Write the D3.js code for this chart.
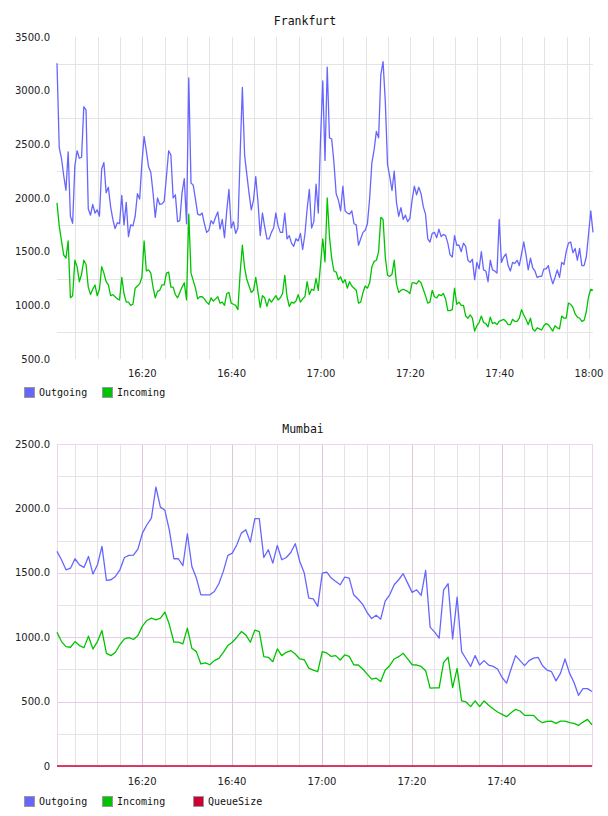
<!DOCTYPE html>
<html>
<head>
<meta charset="utf-8">
<script src="https://cdn.jsdelivr.net/npm/d3@7"></script>
<style>
html,body{margin:0;padding:0;background:#fff;}
svg{display:block;}
</style>
</head>
<body>
<svg id="chart" width="608" height="816"></svg>
<script>
// ---------- DATA ----------
const seriesNames = ["Outgoing", "Incoming", "QueueSize"];
const seriesColors = ["#6666ff", "#00c400", "#cc0033"];

// Frankfurt: samples every 30 s starting 16:00:54
const frankfurtStart = [16, 0, 54];
const frankfurtStepSec = 30;
const frankfurtOutgoing = [
3256,2470,2370,2210,2072,2430,1830,1765,2300,2440,
2370,2380,2850,2820,1900,1840,1940,1860,1890,1830,
2270,2330,2050,2100,1920,1800,1716,1770,1760,2025,
1750,1960,1640,1750,1740,1830,2040,1990,2320,2574,
2440,2290,2240,2050,1820,2000,1940,1945,1970,2200,
2440,2400,2000,2030,1780,1790,2050,2180,1760,3120,
2140,2120,1990,1850,1840,1860,1760,1680,1700,1790,
1760,1820,1870,1710,1800,1630,1880,2080,1720,1780,
1670,1720,2400,3030,2400,2220,2040,1890,1980,2200,
1960,1650,1860,1730,1620,1620,1680,1720,1860,1740,
1680,1680,1860,1620,1650,1580,1550,1620,1600,1670,
1520,1660,1900,2080,1720,1780,2130,1860,2550,3090,
2350,3220,2560,2550,2330,2040,1980,1880,2110,1880,
1860,1850,1880,1760,1750,1560,1620,1680,1700,1760,
2000,2330,2450,2620,2560,3150,3270,2900,2310,2200,
2070,2250,1960,1830,1910,1800,1840,1780,1810,1980,
2110,2030,2100,2040,1920,1850,1620,1590,1670,1680,
1630,1710,1640,1660,1650,1580,1470,1450,1650,1560,
1560,1500,1580,1550,1420,1400,1430,1240,1400,1340,
1500,1330,1320,1220,1420,1330,1320,1300,1800,1400,
1450,1480,1370,1320,1400,1390,1420,1370,1480,1590,
1470,1330,1440,1350,1320,1260,1270,1270,1340,1340,
1370,1270,1200,1260,1330,1260,1400,1380,1500,1580,
1590,1490,1530,1420,1530,1370,1370,1450,1660,1880,
1680];
const frankfurtIncoming = [
1954,1740,1600,1470,1440,1600,1070,1090,1420,1360,
1220,1290,1420,1380,1170,1100,1150,1190,1090,1150,
1360,1300,1220,1190,1090,1100,1080,1060,1050,1260,
1110,1030,1030,1000,1010,1160,1180,1200,1260,1600,
1320,1330,1300,1170,1070,1130,1140,1190,1190,1300,
1310,1170,1170,1100,1070,1120,1170,1210,1050,1850,
1300,1230,1160,1060,1080,1080,1060,1030,1010,1070,
1040,1060,1080,1020,1030,1000,1110,1120,1020,1010,
1000,960,1300,1560,1350,1240,1180,1120,1140,1260,
1120,980,1090,1070,990,1060,1030,1060,1090,1050,
1070,1110,1280,1080,990,1030,1020,1040,1100,1030,
1060,1080,1220,1100,1150,1140,1250,1140,1380,1620,
1405,2000,1640,1440,1320,1310,1240,1266,1210,1240,
1160,1220,1180,1160,1140,1020,1030,1120,1180,1160,
1210,1360,1410,1420,1500,1820,1800,1450,1280,1270,
1290,1420,1200,1120,1140,1150,1140,1130,1110,1210,
1210,1200,1230,1210,1150,1090,1020,1030,1140,1080,
1070,1100,1090,1110,1060,950,950,960,1160,1010,
1030,1000,1000,900,880,910,880,760,810,840,
900,840,830,800,890,830,840,820,850,860,
870,850,820,820,870,850,850,880,960,910,
870,820,880,780,760,790,780,770,810,830,
820,790,760,810,790,780,900,880,880,1020,
1010,980,920,890,880,850,860,940,1080,1150,
1140];

// Mumbai: samples every 60 s starting 16:01:04
const mumbaiStart = [16, 1, 4];
const mumbaiStepSec = 60;
const mumbaiOutgoing = [
1666,1601,1523,1536,1609,1562,1542,1627,1490,1562,
1705,1441,1446,1472,1523,1619,1635,1637,1684,1808,
1873,1925,2166,2010,1985,1829,1609,1609,1555,1803,
1549,1459,1329,1329,1329,1355,1415,1511,1635,1653,
1718,1808,1834,1738,1920,1920,1619,1679,1575,1713,
1601,1619,1658,1726,1588,1498,1303,1298,1239,1498,
1505,1459,1433,1407,1467,1459,1329,1295,1255,1190,
1145,1170,1140,1280,1329,1407,1446,1493,1420,1348,
1368,1324,1518,1078,1039,992,1368,1415,987,1311,
888,831,773,857,784,818,784,773,753,687,
643,753,857,818,779,818,838,844,779,745,
732,661,721,831,721,648,549,601,601,578];
const mumbaiIncoming = [
1039,966,927,922,966,935,919,1008,909,966,
1052,875,857,883,943,987,997,982,1013,1086,
1130,1148,1135,1148,1195,1096,961,961,948,1070,
914,888,792,800,786,818,836,883,935,961,
1000,1044,1018,961,1055,1044,849,844,810,909,
857,883,896,870,831,825,760,745,732,888,
878,851,857,823,862,851,786,784,753,713,
674,682,656,745,779,831,849,875,831,786,
784,773,740,604,607,607,805,844,609,758,
505,497,461,505,461,505,471,445,419,401,
383,414,440,427,393,393,393,357,336,346,
349,331,349,349,336,331,315,341,362,320];
const mumbaiQueueSize = [
0,0,0,0,0,0,0,0,0,0, 0,0,0,0,0,0,0,0,0,0,
0,0,0,0,0,0,0,0,0,0, 0,0,0,0,0,0,0,0,0,0,
0,0,0,0,0,0,0,0,0,0, 0,0,0,0,0,0,0,0,0,0,
0,0,0,0,0,0,0,0,0,0, 0,0,0,0,0,0,0,0,0,0,
0,0,0,0,0,0,0,0,0,0, 0,0,0,0,0,0,0,0,0,0,
0,0,0,0,0,0,0,0,0,0, 0,0,0,0,0,0,0,0,0,0];

const frankfurtYTicks = [500, 1000, 1500, 2000, 2500, 3000, 3500];
const frankfurtYGrid = [750, 1250, 1750, 2250, 2750, 3250];
const mumbaiYTicks = [0, 500, 1000, 1500, 2000, 2500];
const mumbaiYGrid = [250, 500, 750, 1000, 1250, 1500, 1750, 2000, 2250];
const xTickLabelMinutes = 20;
const xGridMinutes = 5;

// ---------- DRAW ----------
const svg = d3.select("#chart");
const fmtY = d => d === 0 ? "0" : d3.format(".1f")(d);
const fmtX = d3.timeFormat("%H:%M");

function times(start, step, n) {
  const t0 = new Date(2020, 0, 1, start[0], start[1], start[2]);
  return d3.range(n).map(i => new Date(t0.getTime() + i * step * 1000));
}

function drawChart(cfg) {
  const g = svg.append("g");
  const t = times(cfg.start, cfg.step, cfg.series[0].length);
  const x = d3.scaleTime().domain(d3.extent(t)).range([cfg.left, cfg.right]);
  const y = d3.scaleLinear().domain(cfg.yDomain).range([cfg.bottom, cfg.top]);
  const inside = d => x(d) < cfg.right - cfg.edgeGap;

  // vertical grid
  const vTicks = x.ticks(d3.timeMinute.every(xGridMinutes)).filter(inside);
  g.append("g").selectAll("line").data(vTicks).join("line")
    .attr("x1", d => Math.round(x(d)) + 0.5).attr("x2", d => Math.round(x(d)) + 0.5)
    .attr("y1", cfg.top).attr("y2", cfg.bottom)
    .attr("stroke", d => (cfg.pink && d.getMinutes() % xTickLabelMinutes === 0) ? "#dcc6dc" : "#e4e4e4")
    .attr("stroke-width", 1);

  // horizontal grid
  g.append("g").selectAll("line").data(cfg.yGrid).join("line")
    .attr("x1", cfg.left).attr("x2", cfg.right)
    .attr("y1", d => Math.round(y(d)) + 0.5).attr("y2", d => Math.round(y(d)) + 0.5)
    .attr("stroke", d => (cfg.pink && d % 500 === 0) ? "#e6cce6" : "#e4e4e4")
    .attr("stroke-width", 1);

  if (cfg.pink) {
    g.append("rect")
      .attr("x", cfg.left + 0.5).attr("y", Math.round(cfg.top) + 0.5)
      .attr("width", cfg.right - cfg.left).attr("height", cfg.bottom - cfg.top)
      .attr("fill", "none").attr("stroke", "#ecd4ec").attr("stroke-width", 1);
  }

  // y labels
  g.append("g").selectAll("text").data(cfg.yTicks).join("text")
    .attr("x", 50).attr("y", d => y(d))
    .attr("dy", "0.35em").attr("text-anchor", "end")
    .attr("font-family", "DejaVu Sans, sans-serif").attr("font-size", 10)
    .attr("fill", "#222").text(fmtY);

  // x labels
  const lTicks = x.ticks(d3.timeMinute.every(xTickLabelMinutes)).filter(inside);
  g.append("g").selectAll("text").data(lTicks).join("text")
    .attr("x", d => x(d)).attr("y", cfg.xLabelY)
    .attr("dy", "0.35em").attr("text-anchor", "middle")
    .attr("font-family", "DejaVu Sans, sans-serif").attr("font-size", 10)
    .attr("fill", "#222").text(fmtX);

  // lines
  const line = d3.line().x((d, i) => x(t[i])).y(d => y(d));
  cfg.series.forEach((s, k) => {
    g.append("path").datum(s)
      .attr("d", line).attr("fill", "none")
      .attr("stroke", seriesColors[k]).attr("stroke-width", k === 2 ? 1.5 : 1.3)
      .attr("stroke-linejoin", "round");
  });

  // title
  g.append("text").attr("x", cfg.titleX).attr("y", cfg.titleY)
    .attr("text-anchor", "middle")
    .attr("font-family", "DejaVu Sans Mono, monospace").attr("font-size", 11.5)
    .attr("fill", "#111").text(cfg.title);

  // legend
  const lx = [24, 102, 193];
  cfg.series.forEach((s, k) => {
    g.append("rect").attr("x", lx[k] + 0.5).attr("y", cfg.legendY + 0.5)
      .attr("width", 10).attr("height", 10)
      .attr("fill", seriesColors[k]).attr("stroke", "#999");
    g.append("text").attr("x", lx[k] + 15).attr("y", cfg.legendY + 9)
      .attr("font-family", "DejaVu Sans Mono, monospace").attr("font-size", 10)
      .attr("fill", "#111").text(seriesNames[k]);
  });
}

drawChart({
  title: "Frankfurt", titleX: 305, titleY: 25,
  start: frankfurtStart, step: frankfurtStepSec,
  series: [frankfurtOutgoing, frankfurtIncoming],
  left: 57, right: 593, top: 37, bottom: 359, edgeGap: 2,
  yDomain: [500, 3500], yTicks: frankfurtYTicks, yGrid: frankfurtYGrid,
  xLabelY: 373, legendY: 387, pink: false
});

drawChart({
  title: "Mumbai", titleX: 303, titleY: 433,
  start: mumbaiStart, step: mumbaiStepSec,
  series: [mumbaiOutgoing, mumbaiIncoming, mumbaiQueueSize],
  left: 57, right: 592, top: 444, bottom: 766, edgeGap: 6,
  yDomain: [0, 2500], yTicks: mumbaiYTicks, yGrid: mumbaiYGrid,
  xLabelY: 781, legendY: 796, pink: true
});
</script>
</body>
</html>
